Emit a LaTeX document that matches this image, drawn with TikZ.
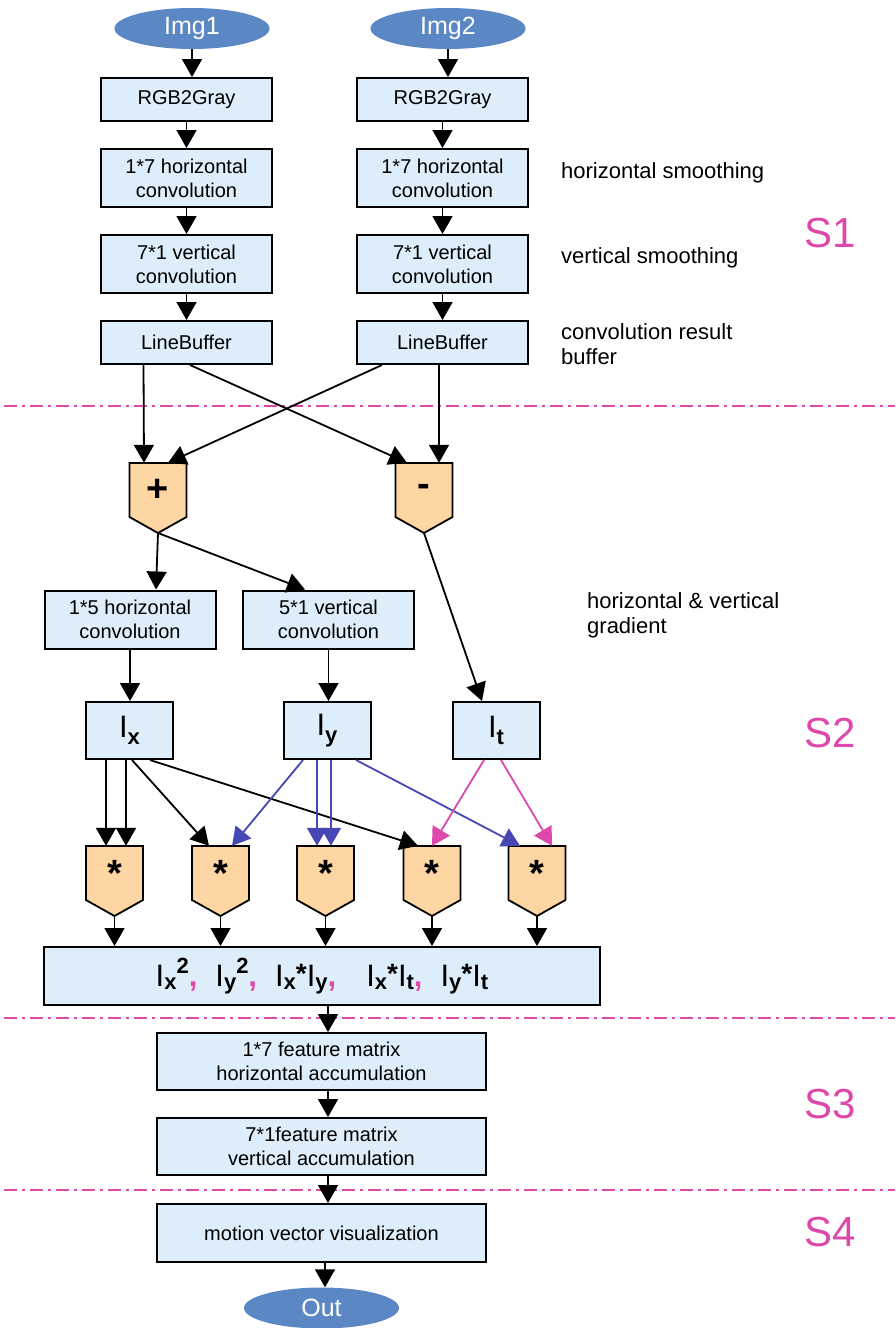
\documentclass[tikz,border=0pt]{standalone}
\usepackage{fontspec}
\setmainfont{Liberation Sans}
\usetikzlibrary{arrows.meta,shapes.geometric}

\definecolor{boxblue}{RGB}{221,238,250}
\definecolor{opfill}{RGB}{254,214,163}
\definecolor{ellblue}{RGB}{91,135,197}
\definecolor{arrblue}{RGB}{70,70,180}
\definecolor{pinkline}{RGB}{221,72,170}

\tikzset{
  box/.style={draw, line width=2pt, fill=boxblue, minimum width=171pt, minimum height=58pt,
    inner sep=0pt, align=center, font=\fontsize{20}{24}\selectfont},
  ibox/.style={box, minimum width=87pt, minimum height=57pt, font=\fontsize{31}{31}\selectfont},
  ell/.style={ellipse, fill=ellblue, minimum width=155pt, minimum height=41pt, inner sep=0pt,
    text=white, font=\fontsize{25}{25}\selectfont},
  opsym/.style={minimum width=57pt, minimum height=54pt, inner sep=0pt,
    font=\fontsize{38}{38}\selectfont\bfseries},
  arr/.style={line width=1.8pt, -{Triangle[width=20pt,length=18pt]}},
  note/.style={anchor=west, inner sep=0pt, align=left, font=\fontsize{22}{25}\selectfont},
  stage/.style={text=pinkline, font=\fontsize{42}{42}\selectfont},
  sep/.style={pinkline, line width=2pt, dash pattern=on 13pt off 5pt on 3pt off 5pt},
}

% блок операции: имя, x, y, знак
\newcommand{\opnode}[4]{%
  \filldraw[fill=opfill, line width=1.8pt] (#2-28.5,#3-27) -- (#2+28.5,#3-27) -- (#2+28.5,#3+27)
    -- (#2,#3+43) -- (#2-28.5,#3+27) -- cycle;
  \node[opsym] (#1) at (#2,#3) {#4};
  \coordinate (#1-tip) at (#2,#3+43);
}
\newcommand{\subb}[2][-3pt]{\raisebox{#1}{\fontsize{22}{22}\selectfont\bfseries #2}}
\newcommand{\supb}[1]{\raisebox{13pt}{\fontsize{22}{22}\selectfont\bfseries #1}}
\newcommand{\mstar}{\raisebox{3pt}{\fontsize{28}{28}\selectfont\bfseries *}}
\newcommand{\pcomma}{\textcolor{pinkline}{\bfseries,}}

\begin{document}
\begin{tikzpicture}[x=1pt, y=-1pt]
  \useasboundingbox (0,0) rectangle (895,1328);

  % Входы
  \node[ell] (img1) at (192,28.5) {Img1};
  \node[ell] (img2) at (448,28.5) {Img2};

  % Левая колонка
  \node[box, minimum height=43pt] (gray1) at (186.5,99.5) {RGB2Gray};
  \node[box] (hconv1) at (186.5,178) {1*7 horizontal\\convolution};
  \node[box] (vconv1) at (186.5,264) {7*1 vertical\\convolution};
  \node[box, minimum height=43pt] (lb1) at (186.5,342.5) {LineBuffer};

  % Правая колонка
  \node[box, minimum height=43pt] (gray2) at (442.5,99.5) {RGB2Gray};
  \node[box] (hconv2) at (442.5,178) {1*7 horizontal\\convolution};
  \node[box] (vconv2) at (442.5,264) {7*1 vertical\\convolution};
  \node[box, minimum height=43pt] (lb2) at (442.5,342.5) {LineBuffer};

  \draw[arr] (img1.south) -- (img1.south |- gray1.north);
  \draw[arr] (img2.south) -- (img2.south |- gray2.north);
  \foreach \a/\b in {gray1/hconv1, hconv1/vconv1, vconv1/lb1, gray2/hconv2, hconv2/vconv2, vconv2/lb2}
    \draw[arr] (\a) -- (\b);

  % Подписи справа
  \node[note] (n1) at (561,173) {horizontal smoothing};
  \node[note] (n2) at (561,258) {vertical smoothing};
  \node[note] (n3) at (561,344.5) {convolution result\\buffer};
  \node[stage] (s1) at (830,233) {S1};

  \draw[sep] (4,406) -- (895,406);

  % Сумма и разность
  \opnode{plus}{158}{490}{+}
  \opnode{minus}{424}{490}{-}
  \draw[arr] ([xshift=-43pt]lb1.south) -- ([xshift=-14pt]plus.north);
  \draw[arr] ([xshift=3.5pt]lb1.south) -- ([xshift=-17pt]minus.north);
  \draw[arr] ([xshift=-60.5pt]lb2.south) -- ([xshift=10pt]plus.north);
  \draw[arr] ([xshift=-3.5pt]lb2.south) -- ([xshift=15pt]minus.north);

  % Градиенты
  \node[box] (hgrad) at (130,619.5) {1*5 horizontal\\convolution};
  \node[box] (vgrad) at (328.5,619.5) {5*1 vertical\\convolution};
  \node[note] (n4) at (587,615.5) {horizontal \& vertical\\gradient};
  \draw[arr] (plus-tip) -- ([xshift=26pt]hgrad.north);
  \draw[arr] (plus-tip) -- ([xshift=-23.5pt]vgrad.north);

  \node[ibox] (ix) at (129.5,730.5) {I\subb[-7pt]{x}};
  \node[ibox] (iy) at (327,730.5) {I\subb[-7pt]{y}};
  \node[ibox] (it) at (496,730.5) {I\subb[-7pt]{t}};
  \draw[arr] (hgrad.south) -- (hgrad.south |- ix.north);
  \draw[arr] (vgrad.south) -- (vgrad.south |- iy.north);
  \draw[arr] (minus-tip) -- ([xshift=-14pt]it.north);
  \node[stage] (s2) at (830,733) {S2};

  % Умножители
  \foreach \n/\x in {m1/114.5, m2/220.5, m3/325.5, m4/432, m5/537}
    \opnode{\n}{\x}{873}{*};

  \draw[arr] ([xshift=-23.5pt]ix.south) -- ([xshift=-8.5pt]m1.north);
  \draw[arr] ([xshift=-3.5pt]ix.south) -- ([xshift=11.5pt]m1.north);
  \draw[arr] ([xshift=2.5pt]ix.south) -- ([xshift=-11.5pt]m2.north);
  \draw[arr] ([xshift=20.5pt]ix.south) -- ([xshift=-14pt]m4.north);
  \draw[arr, arrblue] ([xshift=-24pt]iy.south) -- ([xshift=11.5pt]m2.north);
  \draw[arr, arrblue] ([xshift=-10pt]iy.south) -- ([xshift=-8.5pt]m3.north);
  \draw[arr, arrblue] ([xshift=4pt]iy.south) -- ([xshift=5.5pt]m3.north);
  \draw[arr, arrblue] ([xshift=29pt]iy.south) -- ([xshift=-17pt]m5.north);
  \draw[arr, pinkline] ([xshift=-12pt]it.south) -- (m4.north);
  \draw[arr, pinkline] ([xshift=5pt]it.south) -- ([xshift=15pt]m5.north);

  \node[box, minimum width=556pt, font=\fontsize{31}{31}\selectfont] (res) at (322,976)
    {I\subb{x}\supb{2}\pcomma\hspace{18pt}I\subb{y}\supb{2}\pcomma\hspace{18pt}%
     I\subb{x}\mstar I\subb{y}\pcomma\hspace{30pt}I\subb{x}\mstar I\subb{t}\pcomma\hspace{18pt}%
     I\subb{y}\mstar I\subb{t}};
  \foreach \n in {m1,m2,m3,m4,m5}
    \draw[arr] (\n-tip) -- (\n-tip |- res.north);

  \draw[sep] (4,1018) -- (895,1018);

  % Накопление
  \node[box, minimum width=329pt, minimum height=57pt] (acc1) at (321.5,1061.5)
    {1*7 feature matrix\\horizontal accumulation};
  \node[box, minimum width=329pt, minimum height=57pt] (acc2) at (321.5,1146.5)
    {7*1feature matrix\\vertical accumulation};
  \draw[arr] ([xshift=6pt]res.south) -- ([xshift=6.5pt]acc1.north);
  \draw[arr] ([xshift=6.5pt]acc1.south) -- ([xshift=6.5pt]acc2.north);
  \node[stage] (s3) at (830,1104) {S3};

  \draw[sep] (4,1190) -- (895,1190);

  % Вывод
  \node[box, minimum width=329pt, minimum height=58pt] (vis) at (321.5,1233) {motion vector visualization};
  \node[ell] (out) at (321.5,1308) {Out};
  \draw[arr] ([xshift=6.5pt]acc2.south) -- ([xshift=6.5pt]vis.north);
  \draw[arr] ([xshift=3.5pt]vis.south) -- ([xshift=3.5pt]vis.south |- out.north);
  \node[stage] (s4) at (830,1232) {S4};
\end{tikzpicture}
\end{document}
